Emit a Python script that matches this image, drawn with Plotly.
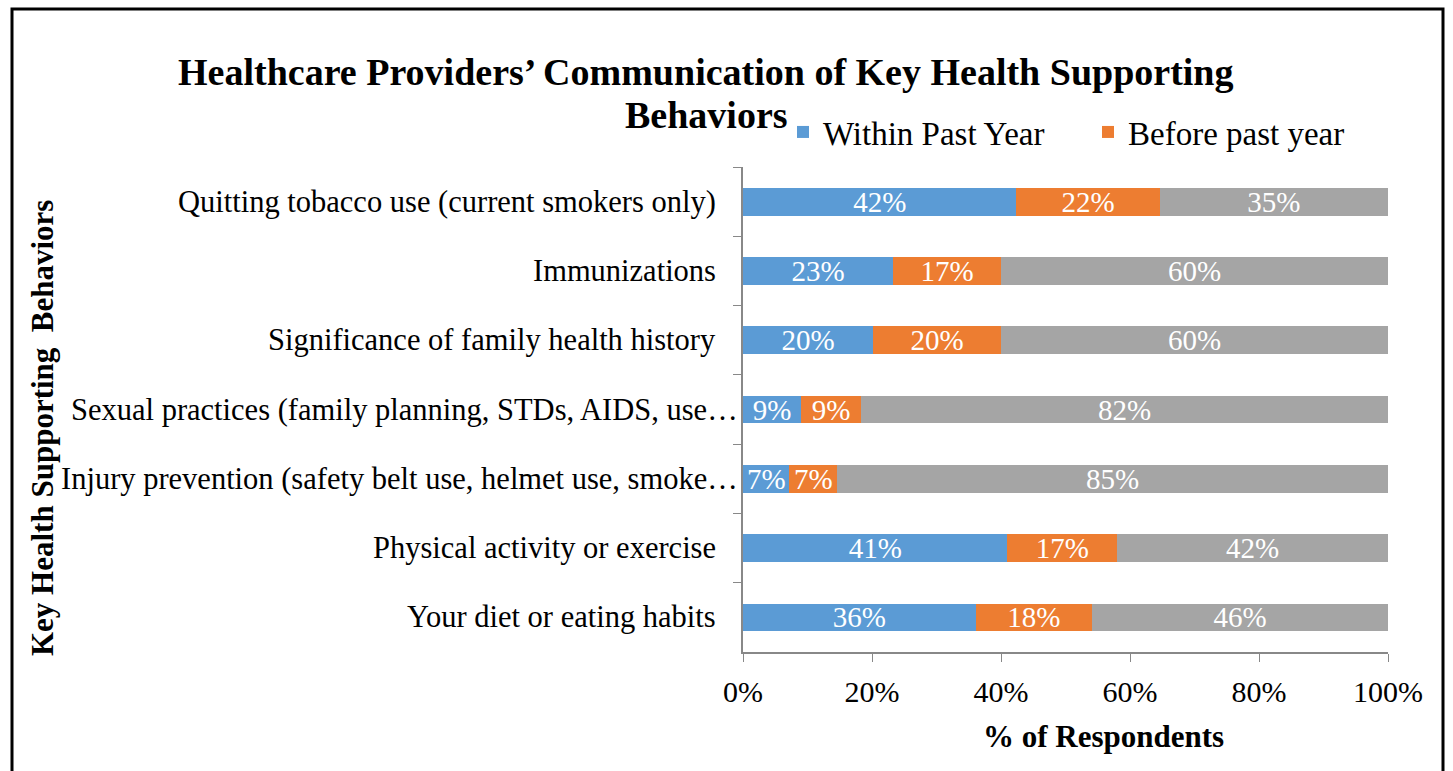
import plotly.graph_objects as go

categories = [
    "Quitting tobacco use (current smokers only)",
    "Immunizations",
    "Significance of family health history",
    "Sexual practices (family planning, STDs, AIDS, use…",
    "Injury prevention (safety belt use, helmet use, smoke…",
    "Physical activity or exercise",
    "Your diet or eating habits",
]
within_past_year = [42.4, 23.3, 20.2, 9.0, 7.2, 41.0, 36.1]
before_past_year = [22.2, 16.7, 19.8, 9.3, 7.4, 17.0, 18.0]
never = [35.4, 60.0, 60.0, 81.7, 85.4, 42.0, 45.9]

series_names = ["Within Past Year", "Before past year", "Never"]
colors = ["#5B9BD5", "#ED7D31", "#A5A5A5"]
x_ticks = [0, 20, 40, 60, 80, 100]
x_tick_text = ["0%", "20%", "40%", "60%", "80%", "100%"]

FONT = "Liberation Serif"

fig = go.Figure()
for name, vals, col, show in zip(series_names,
                                 [within_past_year, before_past_year, never],
                                 colors, [True, True, False]):
    fig.add_trace(go.Bar(
        y=categories, x=vals, name=name, orientation="h",
        marker=dict(color=col, line=dict(width=0)),
        showlegend=show,
        texttemplate="%{x:.0f}%", textposition="inside",
        insidetextanchor="middle", textangle=0,
        textfont=dict(family=FONT, size=29, color="white"),
    ))

fig.update_layout(
    barmode="stack",
    bargap=0.6,
    width=1453, height=771,
    margin=dict(l=743, r=65, t=167, b=119),
    paper_bgcolor="white", plot_bgcolor="white",
    font=dict(family=FONT, color="black"),
    uniformtext=dict(minsize=29, mode="show"),
    legend=dict(
        orientation="h", x=(783 - 743) / 645, xanchor="left",
        y=(652 - 132) / 485, yanchor="middle",
        font=dict(family=FONT, size=33, color="black"),
        bgcolor="rgba(0,0,0,0)", itemwidth=30,
        entrywidth=260, entrywidthmode="pixels",
        traceorder="normal",
    ),
    xaxis=dict(
        range=[0, 100], tickvals=x_ticks, ticktext=x_tick_text,
        showgrid=False, zeroline=False,
        showline=True, linecolor="#888888", linewidth=1.5,
        ticks="outside", ticklen=8, tickcolor="#888888",
        tickfont=dict(family=FONT, size=30, color="black"),
        ticklabelstandoff=4,
    ),
    yaxis=dict(
        autorange="reversed", showgrid=False,
        showline=True, linecolor="#888888", linewidth=1.5,
        ticks="outside", ticklen=8, tickcolor="#888888",
        tickson="boundaries", showticklabels=False,
    ),
)

# category labels (truncated labels sit closer to the axis, as in the original)
for cat in categories:
    truncated = cat.endswith("…")
    fig.add_annotation(
        text=cat, xref="paper", yref="y", x=0, y=cat,
        xanchor="right", yanchor="middle",
        xshift=-3 if truncated else -25,
        showarrow=False, font=dict(family=FONT, size=30.5, color="black"),
    )

# title lines
fig.add_annotation(
    text="<b>Healthcare Providers’ Communication of Key Health Supporting</b>",
    xref="paper", yref="paper",
    x=(706 - 743) / 645, y=(652 - 72) / 485, xanchor="center", yanchor="middle",
    showarrow=False, font=dict(family=FONT, size=38, color="black"),
)
fig.add_annotation(
    text="<b>Behaviors</b>",
    xref="paper", yref="paper",
    x=(706 - 743) / 645, y=(652 - 115) / 485, xanchor="center", yanchor="middle",
    showarrow=False, font=dict(family=FONT, size=38, color="black"),
)
fig.add_annotation(
    text="<b>% of Respondents</b>", xref="paper", yref="paper",
    x=(1103 - 743) / 645, y=(652 - 736) / 485, xanchor="center", yanchor="middle",
    showarrow=False, font=dict(family=FONT, size=31, color="black"),
)
fig.add_annotation(
    text="<b>Key Health Supporting  Behaviors</b>", xref="paper", yref="paper",
    x=(42 - 743) / 645, y=(652 - 428) / 485, xanchor="center", yanchor="middle",
    textangle=-90, showarrow=False, font=dict(family=FONT, size=31, color="black"),
)
fig.add_shape(
    type="rect", xref="paper", yref="paper",
    x0=(12 - 743) / 645, x1=(1443 - 743) / 645,
    y0=(652 - 790) / 485, y1=(652 - 9) / 485,
    line=dict(color="black", width=3), fillcolor="rgba(0,0,0,0)",
)

fig.write_html("out.html")
